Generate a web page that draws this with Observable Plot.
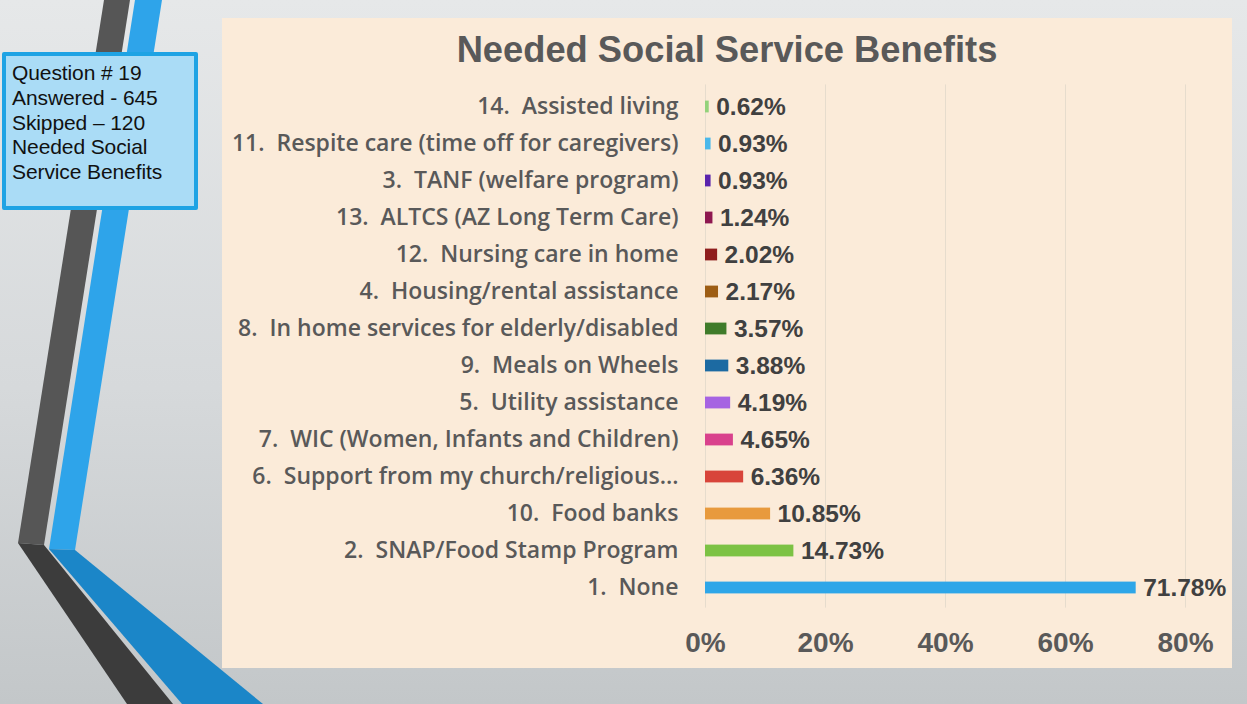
<!DOCTYPE html>
<html>
<head>
<meta charset="utf-8">
<script src="https://cdn.jsdelivr.net/npm/d3@7"></script>
<script src="https://cdn.jsdelivr.net/npm/@observablehq/plot@0.6"></script>
<style>
  html, body { margin: 0; padding: 0; }
  body { width: 1247px; height: 704px; overflow: hidden; position: relative;
         background: linear-gradient(180deg, #e6e8e9 0%, #d6d9db 55%, #c3c7c9 100%);
         font-family: "Liberation Sans", Arial, sans-serif; }
  #decor { position: absolute; left: 0; top: 0; }
  #infobox { position: absolute; left: 2px; top: 52px; width: 182px; height: 145px;
             background: #aadcf6; border: 4px solid #1ea3e4; border-radius: 2px;
             font-family: "Liberation Sans", Arial, sans-serif; font-size: 21px; line-height: 24.8px;
             color: #111; padding: 5px 0 0 6px; box-sizing: content-box; letter-spacing: -0.1px; }
  #panel { position: absolute; left: 222px; top: 18px; width: 1010px; height: 650px; background: #fbebd9; }
  #title { position: absolute; left: 0; top: 11px; width: 1010px; text-align: center;
           font-family: "Liberation Sans", Arial, sans-serif; font-weight: bold; font-size: 36.3px; color: #595959; }
  #chart { position: absolute; left: 0; top: 50px; }
  #chart svg text { white-space: pre; }
</style>
</head>
<body>
<svg id="decor" width="1247" height="704">
  <polygon points="104,0 130,0 44,545 18,543" fill="#565656"/>
  <polygon points="18,543 44,545 173,704 127,704" fill="#3c3c3c"/>
  <polygon points="135,0 162,0 75,550 49,549" fill="#2ea4ea"/>
  <polygon points="49,549 75,550 263,704 182,704" fill="#1b86c8"/>
</svg>
<div id="infobox">Question # 19<br>Answered - 645<br>Skipped – 120<br>Needed Social<br>Service Benefits</div>
<div id="panel">
  <div id="title">Needed Social Service Benefits</div>
  <div id="chart"></div>
</div>
<script>
const categories = [
  "14.  Assisted living",
  "11.  Respite care (time off for caregivers)",
  "3.  TANF (welfare program)",
  "13.  ALTCS (AZ Long Term Care)",
  "12.  Nursing care in home",
  "4.  Housing/rental assistance",
  "8.  In home services for elderly/disabled",
  "9.  Meals on Wheels",
  "5.  Utility assistance",
  "7.  WIC (Women, Infants and Children)",
  "6.  Support from my church/religious…",
  "10.  Food banks",
  "2.  SNAP/Food Stamp Program",
  "1.  None"
];
const values = [0.62, 0.93, 0.93, 1.24, 2.02, 2.17, 3.57, 3.88, 4.19, 4.65, 6.36, 10.85, 14.73, 71.78];
const barColors = ["#93d27a", "#4bb8ea", "#5a23ad", "#8e1850", "#8f1d1d", "#9d5d14", "#3f7b2a", "#1c6aa2",
                   "#a663e2", "#d9418c", "#d8443a", "#e89a3d", "#7cc244", "#2ea6e8"];
const xTicks = [0, 20, 40, 60, 80];

const data = categories.map((c, i) => ({category: c, value: values[i]}));

const chart = Plot.plot({
  width: 1010,
  height: 600,
  marginLeft: 483,
  marginRight: 47,
  marginTop: 18.4,
  marginBottom: 60.4,
  style: {background: "transparent", overflow: "visible"},
  x: {domain: [0, 80], ticks: xTicks, grid: false, label: null},
  y: {domain: categories, padding: 0, label: null},
  color: {domain: categories, range: barColors},
  marks: [
    Plot.ruleX(xTicks, {stroke: "#e6dccd", strokeWidth: 1, insetTop: -2}),
    Plot.barX(data, {x: "value", y: "category", fill: "category", insetTop: 12.6, insetBottom: 12.6}),
    Plot.text(data, {x: "value", y: "category", text: d => d.value.toFixed(2) + "%", textAnchor: "start", dx: 7,
                     fontFamily: "Liberation Sans, Arial, sans-serif", fontWeight: "bold", fontSize: 24.5, fill: "#404040"}),
    Plot.axisX({ticks: xTicks, tickFormat: d => d + "%", tickSize: 0, tickPadding: 24, label: null,
                fontFamily: "Liberation Sans, Arial, sans-serif", fontWeight: "bold", fontSize: 28, fill: "#595959"}),
    Plot.axisY({tickSize: 0, tickPadding: 27, label: null, fontFamily: "Open Sans, sans-serif", fontWeight: 600, fontSize: 23, fill: "#595959"})
  ]
});
document.getElementById("chart").appendChild(chart);
</script>
</body>
</html>
